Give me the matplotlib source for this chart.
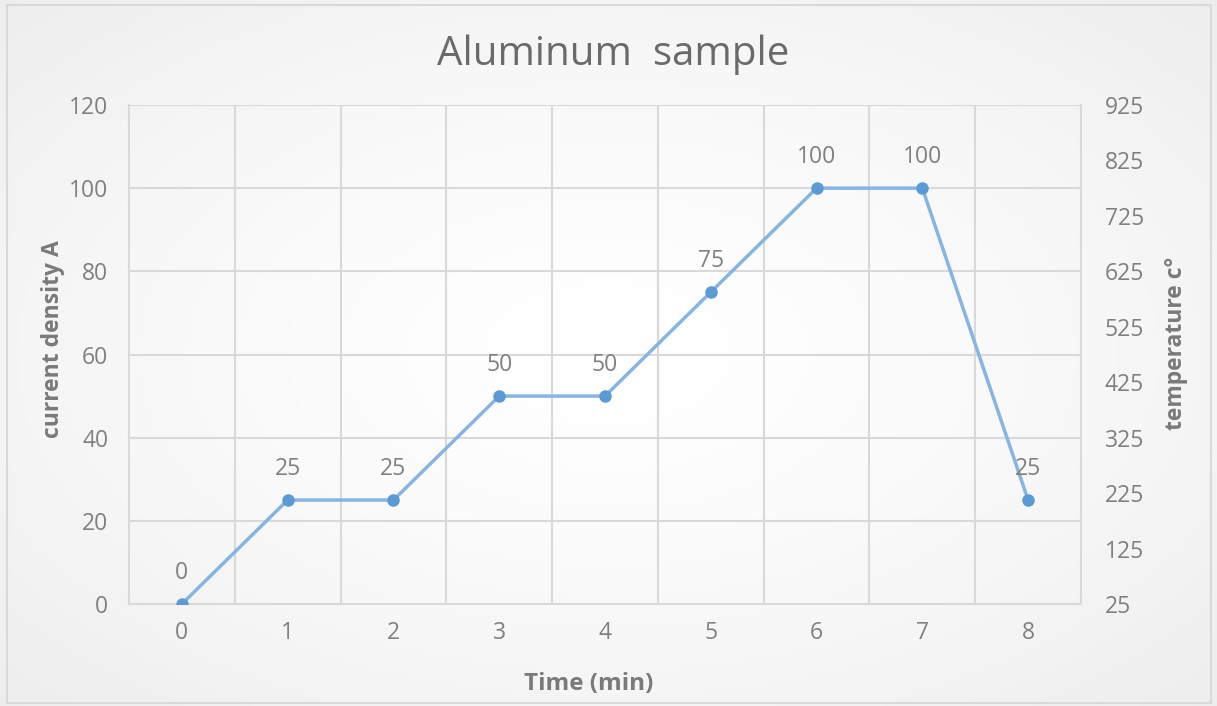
import numpy as np
import matplotlib
matplotlib.use("Agg")
import matplotlib.pyplot as plt
from matplotlib.patches import Rectangle

time_min = [0, 1, 2, 3, 4, 5, 6, 7, 8]
current_density = [0, 25, 25, 50, 50, 75, 100, 100, 25]
left_ticks = [0, 20, 40, 60, 80, 100, 120]
right_ticks = [25, 125, 225, 325, 425, 525, 625, 725, 825, 925]

W, H = 1217, 706
fig = plt.figure(figsize=(W / 100, H / 100), dpi=100)
fig.patch.set_facecolor("white")

# background gradient
bg = fig.add_axes([0, 0, 1, 1], zorder=0)
yy, xx = np.mgrid[0:1:200j, 0:1:300j]
r = np.sqrt(((xx - 0.5) / 0.75) ** 2 + ((yy - 0.5) / 0.75) ** 2)
val = 1.0 - 0.075 * np.clip(r, 0, 1) ** 1.5
bg.imshow(np.dstack([val, val, val]), extent=[0, 1, 0, 1], aspect="auto", origin="lower")
bg.set_xlim(0, 1); bg.set_ylim(0, 1); bg.axis("off")
bg.add_patch(Rectangle((7 / W, 1 - 703 / H), (1211 - 7) / W, (703 - 5) / H,
                       fill=False, edgecolor="#d9d9d9", lw=1.5, transform=bg.transAxes))

fam = ["Open Sans", "DejaVu Sans"]
tc = "#808080"
lc = "#7a7a7a"
fs = 16.5

left, right, top, bottom = 129, 1081, 105, 604
pw, ph = right - left, bottom - top
ax = fig.add_axes([left / W, 1 - bottom / H, pw / W, ph / H], zorder=2)
ax.set_facecolor("none")
ax.set_xlim(-0.5, 8.5)
ax.set_ylim(0, 120)
ax.set_yticks(left_ticks)
ax.set_xticks(time_min)
ax.set_xticklabels([str(t) for t in time_min], fontsize=fs, color=tc, family=fam)
ax.set_yticklabels([str(t) for t in left_ticks], fontsize=fs, color=tc, family=fam)
ax.tick_params(axis="y", length=0, pad=15)
ax.tick_params(axis="x", length=0, pad=12)
for y in left_ticks[1:]:
    ax.axhline(y, color="#d9d9d9", lw=1.5, zorder=1)
for xb in np.arange(0.5, 8.5, 1):
    ax.axvline(xb, color="#d9d9d9", lw=1.5, zorder=1)
for s in ["left", "bottom", "right"]:
    ax.spines[s].set_color("#d9d9d9"); ax.spines[s].set_linewidth(1.5)
ax.spines["top"].set_visible(False)

ax.plot(time_min, current_density, color="#86b5e2", lw=2.5, zorder=3)
ax.plot(time_min, current_density, ls="none", marker="o", ms=8, color="#5b9bd5", zorder=4)
for t, v in zip(time_min, current_density):
    ax.annotate(str(v), (t, v), xytext=(0, 22.5), textcoords="offset points",
                ha="center", va="center", fontsize=fs, color=tc, family=fam)

ax.set_ylabel("current density A", fontsize=16.5, fontweight="bold", color=lc, family=fam)
ax.yaxis.set_label_coords((53 - left) / pw, (bottom - 339) / ph)
ax.yaxis.label.set_verticalalignment("center")
ax.set_xlabel("Time (min)", fontsize=17.5, fontweight="bold", color=lc, family=fam)
ax.xaxis.set_label_coords((589 - left) / pw, (bottom - 684) / ph)
ax.xaxis.label.set_verticalalignment("center")

ax2 = ax.twinx()
ax2.set_ylim(25, 925)
ax2.set_yticks(right_ticks)
ax2.set_yticklabels([str(t) for t in right_ticks], fontsize=fs, color=tc, family=fam)
ax2.tick_params(length=0, pad=17)
for s in ax2.spines.values():
    s.set_visible(False)
ax2.set_ylabel("temperature c°", fontsize=16.5, fontweight="bold", color=lc, family=fam)
ax2.yaxis.set_label_coords((1176 - left) / pw, (bottom - 343) / ph)
ax2.yaxis.label.set_verticalalignment("center")

fig.text(613 / W, 1 - 55 / H, "Aluminum  sample", ha="center", va="center",
         fontsize=29, color="#6a6a6a", family=fam)

fig.savefig("out.png", dpi=100)
